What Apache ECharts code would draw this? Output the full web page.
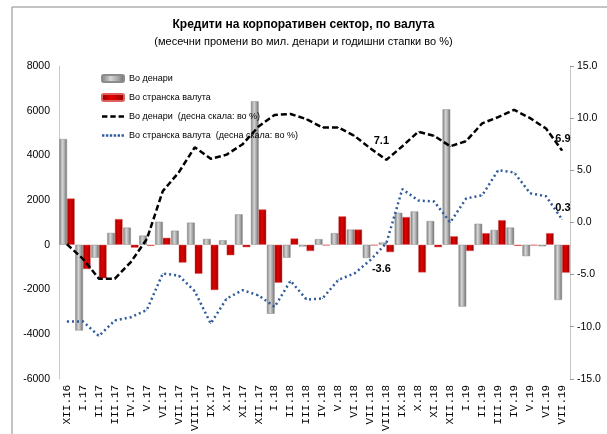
<!DOCTYPE html>
<html>
<head>
<meta charset="utf-8">
<title>Кредити на корпоративен сектор</title>
<script src="https://cdn.jsdelivr.net/npm/echarts@6/dist/echarts.min.js"></script>
<style>
  html, body { margin: 0; padding: 0; background: #fff; }
  #chart { width: 607px; height: 434px; }
</style>
</head>
<body>
<div id="chart"></div>
<script>
(function () {
    'use strict';

    var months = ['XII.16', 'I.17', 'II.17', 'III.17', 'IV.17', 'V.17', 'VI.17', 'VII.17', 'VIII.17', 'IX.17', 'X.17', 'XI.17',
        'XII.17', 'I.18', 'II.18', 'III.18', 'IV.18', 'V.18', 'VI.18', 'VII.18', 'VIII.18', 'IX.18', 'X.18', 'XI.18',
        'XII.18', 'I.19', 'II.19', 'III.19', 'IV.19', 'V.19', 'VI.19', 'VII.19'];

    // месечни промени, мил. денари
    var denars = [4730, -3840, -580, 530, 770, 410, 1030, 630, 990, 260, 200, 1360,
        6420, -3090, -580, -80, 250, 520, 680, -590, 100, 1430, 1490, 1060,
        6060, -2770, 940, 660, 770, -510, -70, -2470];
    var foreign = [2070, -1090, -1500, 1150, -130, -50, 310, -800, -1300, -2030, -470, -110,
        1580, -1700, 280, -280, -30, 1270, 680, -30, -330, 1240, -1240, -110,
        380, -280, 520, 1100, -50, -30, 520, -1250];

    // годишни стапки, % (десна скала)
    var denarsRate = [-2.1, -3.5, -5.4, -5.4, -3.8, -1.6, 3.0, 4.8, 7.2, 6.1, 6.5, 7.5,
        9.2, 10.3, 10.4, 9.9, 9.1, 9.1, 8.3, 7.1, 6.0, 7.3, 8.7, 8.3,
        7.3, 7.8, 9.5, 10.1, 10.8, 10.0, 9.0, 6.9];
    var foreignRate = [-9.5, -9.5, -10.9, -9.4, -9.1, -8.4, -4.9, -5.1, -6.6, -9.7, -7.3, -6.5,
        -7.0, -8.1, -5.6, -7.4, -7.3, -5.5, -4.9, -3.6, -2.0, 3.2, 2.1, 2.0,
        0.0, 2.3, 2.6, 5.0, 4.8, 2.8, 2.5, 0.3];

    // точки со ознака на вредноста
    var labelled = [19, 31];

    var leftTicks = { min: -6000, max: 8000, interval: 2000 };
    var rightTicks = { min: -15, max: 15, interval: 5 };

    var font = "'Liberation Sans', Arial, sans-serif";

    // legend icons for the two lines (dashes / dots), corners keep the 22x7 box
    var box = 'M0,0l0.01,0l-0.01,0.01z M22,7l-0.01,0l0.01,-0.01z ';
    var dashIcon = 'path://' + box + 'M0,2.2h5.4v2.6h-5.4z M8.3,2.2h5.4v2.6h-5.4z M16.6,2.2h5.4v2.6h-5.4z';
    var dotIcon = 'path://' + box + 'M0,2.3h2.4v2.4h-2.4z M3.9,2.3h2.4v2.4h-2.4z M7.8,2.3h2.4v2.4h-2.4z ' +
        'M11.7,2.3h2.4v2.4h-2.4z M15.6,2.3h2.4v2.4h-2.4z M19.5,2.3h2.4v2.4h-2.4z';

    function grad(c0, c1, c2, c3) {
        return new echarts.graphic.LinearGradient(0, 0, 1, 0, [
            { offset: 0, color: c0 }, { offset: 0.4, color: c1 },
            { offset: 0.7, color: c2 }, { offset: 1, color: c3 }
        ]);
    }

    function rateData(values, offsetTop, pos) {
        return values.map(function (v, i) {
            if (labelled.indexOf(i) < 0) return v;
            var mid = i === 19;
            return {
                value: v,
                label: {
                    show: true,
                    position: mid ? pos : 'top',
                    offset: mid ? [11, offsetTop] : [1, -1],
                    distance: 4,
                    fontFamily: font,
                    fontWeight: 'bold',
                    fontSize: 11,
                    color: '#000',
                    formatter: function (p) { return Number(p.value).toFixed(1); }
                }
            };
        });
    }

    var chart = echarts.init(document.getElementById('chart'), null, { renderer: 'canvas' });

    chart.setOption({
        animation: false,
        backgroundColor: '#fff',
        graphic: [{
            type: 'rect',
            shape: { x: 12, y: 7, width: 640, height: 460 },
            style: { fill: 'none', stroke: '#8a8a8a', lineWidth: 1 },
            silent: true
        }],
        title: {
            text: 'Кредити на корпоративен сектор, по валута',
            subtext: '(месечни промени во мил. денари и годишни стапки во %)',
            left: 'center',
            top: 14,
            itemGap: 5,
            textStyle: { fontFamily: font, fontSize: 12, fontWeight: 'bold', color: '#000' },
            subtextStyle: { fontFamily: font, fontSize: 11, color: '#000' }
        },
        legend: {
            orient: 'vertical',
            left: 96,
            top: 69,
            itemWidth: 22,
            itemHeight: 7,
            itemGap: 10,
            textStyle: { fontFamily: font, fontSize: 9, color: '#000' },
            data: [
                { name: 'Во денари' },
                { name: 'Во странска валута' },
                { name: 'Во денари  (десна скала: во %)', icon: dashIcon },
                { name: 'Во странска валута  (десна скала: во %)', icon: dotIcon }
            ]
        },
        grid: { left: 59, right: 37, top: 66, bottom: 52, containLabel: false },
        xAxis: {
            type: 'category',
            data: months,
            axisLine: { show: false },
            axisTick: { show: false },
            axisLabel: {
                interval: 0,
                rotate: 90,
                margin: 6,
                fontFamily: "'Liberation Mono', 'DejaVu Sans Mono', monospace",
                fontSize: 11,
                color: '#000'
            }
        },
        yAxis: [{
            type: 'value',
            min: leftTicks.min,
            max: leftTicks.max,
            interval: leftTicks.interval,
            splitLine: { show: false },
            axisLine: { show: true, lineStyle: { color: '#c8c8c8' } },
            axisTick: { show: false },
            axisLabel: {
                margin: 9, fontFamily: font, fontSize: 10.5, color: '#000',
                formatter: function (v) { return String(v); }
            }
        }, {
            type: 'value',
            position: 'right',
            min: rightTicks.min,
            max: rightTicks.max,
            interval: rightTicks.interval,
            splitLine: { show: false },
            axisLine: { show: true, lineStyle: { color: '#c8c8c8' } },
            axisTick: { show: true, length: 4, lineStyle: { color: '#999' } },
            axisLabel: {
                margin: 7, fontFamily: font, fontSize: 10.5, color: '#000',
                formatter: function (v) { return v.toFixed(1); }
            }
        }],
        series: [{
            name: 'Во денари',
            type: 'bar',
            data: denars,
            barGap: '0%',
            barCategoryGap: '4%',
            itemStyle: {
                color: grad('#7a7a7a', '#d6d6d6', '#a8a8a8', '#6a6a6a'),
                borderColor: '#8c8c8c',
                borderWidth: 0.5
            }
        }, {
            name: 'Во странска валута',
            type: 'bar',
            data: foreign,
            itemStyle: {
                color: grad('#8a0000', '#e40000', '#c40000', '#7a0000'),
                borderColor: '#e06060',
                borderWidth: 0.5
            }
        }, {
            name: 'Во денари  (десна скала: во %)',
            type: 'line',
            yAxisIndex: 1,
            data: rateData(denarsRate, 3, 'top'),
            symbol: 'circle',
            symbolSize: 1,
            showSymbol: true,
            z: 5,
            itemStyle: { color: '#000' },
            lineStyle: { color: '#000', width: 2.5, type: [6, 3] }
        }, {
            name: 'Во странска валута  (десна скала: во %)',
            type: 'line',
            yAxisIndex: 1,
            data: rateData(foreignRate, -1, 'bottom'),
            symbol: 'circle',
            symbolSize: 1,
            showSymbol: true,
            z: 5,
            itemStyle: { color: '#2f5b9a' },
            lineStyle: { color: '#2f5b9a', width: 2.5, type: [2, 3] }
        }]
    });

    window.addEventListener('resize', function () { chart.resize(); });
})();
</script>
</body>
</html>
